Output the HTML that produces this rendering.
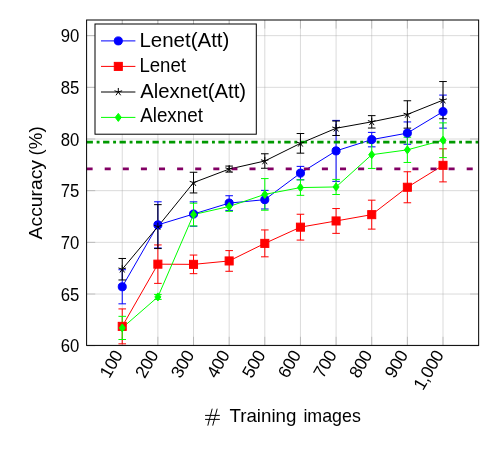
<!DOCTYPE html>
<html><head><meta charset="utf-8"><title>chart</title><style>html,body{margin:0;padding:0;background:#fff}</style></head><body>
<svg width="499" height="453" viewBox="0 0 499 453" style="display:block;will-change:transform;font-family:'Liberation Sans',sans-serif">
<rect width="499" height="453" fill="#fff"/>
<path d="M122.24 20.0V345.4M157.88 20.0V345.4M193.52 20.0V345.4M229.16 20.0V345.4M264.80 20.0V345.4M300.45 20.0V345.4M336.09 20.0V345.4M371.73 20.0V345.4M407.37 20.0V345.4M443.01 20.0V345.4M86.6 345.70H478.65M86.6 294.02H478.65M86.6 242.35H478.65M86.6 190.67H478.65M86.6 139.00H478.65M86.6 87.32H478.65M86.6 35.65H478.65" stroke="#a4a4a4" stroke-width="0.4" fill="none"/>
<path d="M122.24 345.4v-8.6M122.24 20.0v8.6M157.88 345.4v-8.6M157.88 20.0v8.6M193.52 345.4v-8.6M193.52 20.0v8.6M229.16 345.4v-8.6M229.16 20.0v8.6M264.80 345.4v-8.6M264.80 20.0v8.6M300.45 345.4v-8.6M300.45 20.0v8.6M336.09 345.4v-8.6M336.09 20.0v8.6M371.73 345.4v-8.6M371.73 20.0v8.6M407.37 345.4v-8.6M407.37 20.0v8.6M443.01 345.4v-8.6M443.01 20.0v8.6M86.6 345.70h8.6M478.65 345.70h-8.6M86.6 294.02h8.6M478.65 294.02h-8.6M86.6 242.35h8.6M478.65 242.35h-8.6M86.6 190.67h8.6M478.65 190.67h-8.6M86.6 139.00h8.6M478.65 139.00h-8.6M86.6 87.32h8.6M478.65 87.32h-8.6M86.6 35.65h8.6M478.65 35.65h-8.6" stroke="#808080" stroke-width="0.4" fill="none"/>
<clipPath id="c"><rect x="86.6" y="20.0" width="392.04999999999995" height="325.4"/></clipPath>
<g clip-path="url(#c)">
<polyline points="122.24,286.79 157.88,224.88 193.52,214.03 229.16,203.08 264.80,199.67 300.45,173.11 336.09,150.89 371.73,139.62 407.37,133.11 443.01,111.61" fill="none" stroke="#0000ff" stroke-width="1.0"/>
<path d="M122.24 269.74V303.84M118.44 269.74h7.6M118.44 303.84h7.6M157.88 201.79V247.98M154.08 201.79h7.6M154.08 247.98h7.6M193.52 201.84V226.23M189.72 201.84h7.6M189.72 226.23h7.6M229.16 195.74V210.41M225.36 195.74h7.6M225.36 210.41h7.6M264.80 190.36V208.97M261.00 190.36h7.6M261.00 208.97h7.6M300.45 166.39V179.82M296.65 166.39h7.6M296.65 179.82h7.6M336.09 120.40V181.37M332.29 120.40h7.6M332.29 181.37h7.6M371.73 132.39V146.85M367.93 132.39h7.6M367.93 146.85h7.6M407.37 121.95V144.27M403.57 121.95h7.6M403.57 144.27h7.6M443.01 95.08V128.15M439.21 95.08h7.6M439.21 128.15h7.6" stroke="#0000ff" stroke-width="1.0" fill="none"/>
<polyline points="122.24,326.37 157.88,264.16 193.52,264.36 229.16,260.95 264.80,243.38 300.45,227.16 336.09,220.96 371.73,214.65 407.37,187.26 443.01,165.35" fill="none" stroke="#ff0000" stroke-width="1.0"/>
<path d="M122.24 308.91V343.84M118.44 308.91h7.6M118.44 343.84h7.6M157.88 244.93V283.38M154.08 244.93h7.6M154.08 283.38h7.6M193.52 255.06V273.67M189.72 255.06h7.6M189.72 273.67h7.6M229.16 250.62V271.29M225.36 250.62h7.6M225.36 271.29h7.6M264.80 229.95V256.82M261.00 229.95h7.6M261.00 256.82h7.6M300.45 214.24V240.08M296.65 214.24h7.6M296.65 240.08h7.6M336.09 208.55V233.36M332.29 208.55h7.6M332.29 233.36h7.6M371.73 200.18V229.12M367.93 200.18h7.6M367.93 229.12h7.6M407.37 171.76V202.77M403.57 171.76h7.6M403.57 202.77h7.6M443.01 148.82V181.89M439.21 148.82h7.6M439.21 181.89h7.6" stroke="#ff0000" stroke-width="1.0" fill="none"/>
<polyline points="122.24,269.22 157.88,226.59 193.52,182.61 229.16,169.07 264.80,161.01 300.45,143.34 336.09,128.25 371.73,121.84 407.37,114.45 443.01,100.14" fill="none" stroke="#000000" stroke-width="1.0"/>
<path d="M122.24 258.47V279.97M118.44 258.47h7.6M118.44 279.97h7.6M157.88 204.63V248.55M154.08 204.63h7.6M154.08 248.55h7.6M193.52 172.28V192.95M189.72 172.28h7.6M189.72 192.95h7.6M229.16 166.08V172.07M225.36 166.08h7.6M225.36 172.07h7.6M264.80 153.78V168.25M261.00 153.78h7.6M261.00 168.25h7.6M300.45 133.52V153.16M296.65 133.52h7.6M296.65 153.16h7.6M336.09 121.02V135.49M332.29 121.02h7.6M332.29 135.49h7.6M371.73 115.64V128.04M367.93 115.64h7.6M367.93 128.04h7.6M407.37 100.76V128.15M403.57 100.76h7.6M403.57 128.15h7.6M443.01 81.54V118.74M439.21 81.54h7.6M439.21 118.74h7.6" stroke="#000000" stroke-width="1.0" fill="none"/>
<polyline points="122.24,327.92 157.88,296.92 193.52,214.55 229.16,206.49 264.80,194.40 300.45,187.57 336.09,186.95 371.73,154.71 407.37,149.85 443.01,140.24" fill="none" stroke="#00ff00" stroke-width="1.0"/>
<path d="M122.24 316.35V339.50M118.44 316.35h7.6M118.44 339.50h7.6M157.88 294.44V299.40M154.08 294.44h7.6M154.08 299.40h7.6M193.52 203.18V225.92M189.72 203.18h7.6M189.72 225.92h7.6M229.16 201.63V211.34M225.36 201.63h7.6M225.36 211.34h7.6M264.80 178.58V210.21M261.00 178.58h7.6M261.00 210.21h7.6M300.45 179.82V195.33M296.65 179.82h7.6M296.65 195.33h7.6M336.09 179.41V194.50M332.29 179.41h7.6M332.29 194.50h7.6M371.73 140.96V168.45M367.93 140.96h7.6M367.93 168.45h7.6M407.37 137.24V162.46M403.57 137.24h7.6M403.57 162.46h7.6M443.01 122.88V157.60M439.21 122.88h7.6M439.21 157.60h7.6" stroke="#00ff00" stroke-width="1.0" fill="none"/>
</g>
<path d="M86.6 142.10H478.65" stroke="#009900" stroke-width="2.8" stroke-dasharray="6.3 3.75 2.9 3.525" fill="none"/>
<path d="M86.6 168.97H478.65" stroke="#820064" stroke-width="2.8" stroke-dasharray="6.03 12.07" fill="none"/>
<circle cx="122.24" cy="286.79" r="4.02" fill="#0000ff" stroke="#0000ff" stroke-width="1.0"/>
<circle cx="157.88" cy="224.88" r="4.02" fill="#0000ff" stroke="#0000ff" stroke-width="1.0"/>
<circle cx="193.52" cy="214.03" r="4.02" fill="#0000ff" stroke="#0000ff" stroke-width="1.0"/>
<circle cx="229.16" cy="203.08" r="4.02" fill="#0000ff" stroke="#0000ff" stroke-width="1.0"/>
<circle cx="264.80" cy="199.67" r="4.02" fill="#0000ff" stroke="#0000ff" stroke-width="1.0"/>
<circle cx="300.45" cy="173.11" r="4.02" fill="#0000ff" stroke="#0000ff" stroke-width="1.0"/>
<circle cx="336.09" cy="150.89" r="4.02" fill="#0000ff" stroke="#0000ff" stroke-width="1.0"/>
<circle cx="371.73" cy="139.62" r="4.02" fill="#0000ff" stroke="#0000ff" stroke-width="1.0"/>
<circle cx="407.37" cy="133.11" r="4.02" fill="#0000ff" stroke="#0000ff" stroke-width="1.0"/>
<circle cx="443.01" cy="111.61" r="4.02" fill="#0000ff" stroke="#0000ff" stroke-width="1.0"/>
<rect x="118.22" y="322.35" width="8.04" height="8.04" fill="#ff0000" stroke="#ff0000" stroke-width="1.0"/>
<rect x="153.86" y="260.14" width="8.04" height="8.04" fill="#ff0000" stroke="#ff0000" stroke-width="1.0"/>
<rect x="189.50" y="260.34" width="8.04" height="8.04" fill="#ff0000" stroke="#ff0000" stroke-width="1.0"/>
<rect x="225.14" y="256.93" width="8.04" height="8.04" fill="#ff0000" stroke="#ff0000" stroke-width="1.0"/>
<rect x="260.78" y="239.36" width="8.04" height="8.04" fill="#ff0000" stroke="#ff0000" stroke-width="1.0"/>
<rect x="296.43" y="223.14" width="8.04" height="8.04" fill="#ff0000" stroke="#ff0000" stroke-width="1.0"/>
<rect x="332.07" y="216.94" width="8.04" height="8.04" fill="#ff0000" stroke="#ff0000" stroke-width="1.0"/>
<rect x="367.71" y="210.63" width="8.04" height="8.04" fill="#ff0000" stroke="#ff0000" stroke-width="1.0"/>
<rect x="403.35" y="183.24" width="8.04" height="8.04" fill="#ff0000" stroke="#ff0000" stroke-width="1.0"/>
<rect x="438.99" y="161.33" width="8.04" height="8.04" fill="#ff0000" stroke="#ff0000" stroke-width="1.0"/>
<path d="M122.24 269.22L122.24 265.20M122.24 269.22L118.42 267.98M122.24 269.22L119.88 272.47M122.24 269.22L124.60 272.47M122.24 269.22L126.06 267.98" stroke="#000000" stroke-width="1.0" fill="none"/>
<path d="M157.88 226.59L157.88 222.57M157.88 226.59L154.06 225.35M157.88 226.59L155.52 229.84M157.88 226.59L160.24 229.84M157.88 226.59L161.71 225.35" stroke="#000000" stroke-width="1.0" fill="none"/>
<path d="M193.52 182.61L193.52 178.59M193.52 182.61L189.70 181.37M193.52 182.61L191.16 185.87M193.52 182.61L195.89 185.87M193.52 182.61L197.35 181.37" stroke="#000000" stroke-width="1.0" fill="none"/>
<path d="M229.16 169.07L229.16 165.05M229.16 169.07L225.34 167.83M229.16 169.07L226.80 172.33M229.16 169.07L231.53 172.33M229.16 169.07L232.99 167.83" stroke="#000000" stroke-width="1.0" fill="none"/>
<path d="M264.80 161.01L264.80 156.99M264.80 161.01L260.98 159.77M264.80 161.01L262.44 164.27M264.80 161.01L267.17 164.27M264.80 161.01L268.63 159.77" stroke="#000000" stroke-width="1.0" fill="none"/>
<path d="M300.45 143.34L300.45 139.32M300.45 143.34L296.62 142.10M300.45 143.34L298.08 146.59M300.45 143.34L302.81 146.59M300.45 143.34L304.27 142.10" stroke="#000000" stroke-width="1.0" fill="none"/>
<path d="M336.09 128.25L336.09 124.23M336.09 128.25L332.26 127.01M336.09 128.25L333.72 131.50M336.09 128.25L338.45 131.50M336.09 128.25L339.91 127.01" stroke="#000000" stroke-width="1.0" fill="none"/>
<path d="M371.73 121.84L371.73 117.82M371.73 121.84L367.90 120.60M371.73 121.84L369.36 125.10M371.73 121.84L374.09 125.10M371.73 121.84L375.55 120.60" stroke="#000000" stroke-width="1.0" fill="none"/>
<path d="M407.37 114.45L407.37 110.43M407.37 114.45L403.54 113.21M407.37 114.45L405.01 117.71M407.37 114.45L409.73 117.71M407.37 114.45L411.19 113.21" stroke="#000000" stroke-width="1.0" fill="none"/>
<path d="M443.01 100.14L443.01 96.12M443.01 100.14L439.19 98.90M443.01 100.14L440.65 103.39M443.01 100.14L445.37 103.39M443.01 100.14L446.83 98.90" stroke="#000000" stroke-width="1.0" fill="none"/>
<path d="M122.24 323.90L125.26 327.92L122.24 331.94L119.23 327.92Z" fill="#00ff00" stroke="#00ff00" stroke-width="1.0"/>
<path d="M157.88 292.90L160.90 296.92L157.88 300.94L154.87 296.92Z" fill="#00ff00" stroke="#00ff00" stroke-width="1.0"/>
<path d="M193.52 210.53L196.54 214.55L193.52 218.57L190.51 214.55Z" fill="#00ff00" stroke="#00ff00" stroke-width="1.0"/>
<path d="M229.16 202.47L232.18 206.49L229.16 210.51L226.15 206.49Z" fill="#00ff00" stroke="#00ff00" stroke-width="1.0"/>
<path d="M264.80 190.38L267.82 194.40L264.80 198.42L261.79 194.40Z" fill="#00ff00" stroke="#00ff00" stroke-width="1.0"/>
<path d="M300.45 183.55L303.46 187.57L300.45 191.59L297.43 187.57Z" fill="#00ff00" stroke="#00ff00" stroke-width="1.0"/>
<path d="M336.09 182.93L339.10 186.95L336.09 190.97L333.07 186.95Z" fill="#00ff00" stroke="#00ff00" stroke-width="1.0"/>
<path d="M371.73 150.69L374.74 154.71L371.73 158.73L368.71 154.71Z" fill="#00ff00" stroke="#00ff00" stroke-width="1.0"/>
<path d="M407.37 145.83L410.38 149.85L407.37 153.87L404.35 149.85Z" fill="#00ff00" stroke="#00ff00" stroke-width="1.0"/>
<path d="M443.01 136.22L446.02 140.24L443.01 144.26L439.99 140.24Z" fill="#00ff00" stroke="#00ff00" stroke-width="1.0"/>
<rect x="86.6" y="20.0" width="392.05" height="325.40" fill="none" stroke="#000" stroke-width="1.0"/>
<rect x="95.0" y="24.0" width="161.30" height="110.20" fill="#fff" stroke="#000" stroke-width="1.0"/>
<path d="M101 40.9H135.4" stroke="#0000ff" stroke-width="1.0"/>
<circle cx="118.30" cy="40.90" r="4.02" fill="#0000ff" stroke="#0000ff" stroke-width="1.0"/>
 <text x="139.4" y="47.0" font-size="20" textLength="90.0" lengthAdjust="spacingAndGlyphs">Lenet(Att)</text>
<path d="M101 66.4H135.4" stroke="#ff0000" stroke-width="1.0"/>
<rect x="114.28" y="62.38" width="8.04" height="8.04" fill="#ff0000" stroke="#ff0000" stroke-width="1.0"/>
 <text x="139.4" y="71.8" font-size="20" textLength="46.6" lengthAdjust="spacingAndGlyphs">Lenet</text>
<path d="M101 92.0H135.4" stroke="#000000" stroke-width="1.0"/>
<path d="M118.30 92.00L118.30 87.98M118.30 92.00L114.48 90.76M118.30 92.00L115.94 95.25M118.30 92.00L120.66 95.25M118.30 92.00L122.12 90.76" stroke="#000000" stroke-width="1.0" fill="none"/>
 <text x="140.2" y="97.6" font-size="20" textLength="105.9" lengthAdjust="spacingAndGlyphs">Alexnet(Att)</text>
<path d="M101 117.4H135.4" stroke="#00ff00" stroke-width="1.0"/>
<path d="M118.30 113.38L121.31 117.40L118.30 121.42L115.28 117.40Z" fill="#00ff00" stroke="#00ff00" stroke-width="1.0"/>
 <text x="140.2" y="122.4" font-size="20" textLength="62.7" lengthAdjust="spacingAndGlyphs">Alexnet</text>
<text x="79.4" y="352.30" font-size="18.5" text-anchor="end" textLength="18.6" lengthAdjust="spacingAndGlyphs">60</text>
<text x="79.4" y="300.62" font-size="18.5" text-anchor="end" textLength="18.6" lengthAdjust="spacingAndGlyphs">65</text>
<text x="79.4" y="248.95" font-size="18.5" text-anchor="end" textLength="18.6" lengthAdjust="spacingAndGlyphs">70</text>
<text x="79.4" y="197.27" font-size="18.5" text-anchor="end" textLength="18.6" lengthAdjust="spacingAndGlyphs">75</text>
<text x="79.4" y="145.60" font-size="18.5" text-anchor="end" textLength="18.6" lengthAdjust="spacingAndGlyphs">80</text>
<text x="79.4" y="93.92" font-size="18.5" text-anchor="end" textLength="18.6" lengthAdjust="spacingAndGlyphs">85</text>
<text x="79.4" y="42.25" font-size="18.5" text-anchor="end" textLength="18.6" lengthAdjust="spacingAndGlyphs">90</text>
<text transform="translate(122.24,345.4) rotate(-60)" x="-7.6" y="5.6" font-size="17.5" letter-spacing="-0.35" text-anchor="end">100</text>
<text transform="translate(157.88,345.4) rotate(-60)" x="-7.6" y="5.6" font-size="17.5" letter-spacing="-0.35" text-anchor="end">200</text>
<text transform="translate(193.52,345.4) rotate(-60)" x="-7.6" y="5.6" font-size="17.5" letter-spacing="-0.35" text-anchor="end">300</text>
<text transform="translate(229.16,345.4) rotate(-60)" x="-7.6" y="5.6" font-size="17.5" letter-spacing="-0.35" text-anchor="end">400</text>
<text transform="translate(264.80,345.4) rotate(-60)" x="-7.6" y="5.6" font-size="17.5" letter-spacing="-0.35" text-anchor="end">500</text>
<text transform="translate(300.45,345.4) rotate(-60)" x="-7.6" y="5.6" font-size="17.5" letter-spacing="-0.35" text-anchor="end">600</text>
<text transform="translate(336.09,345.4) rotate(-60)" x="-7.6" y="5.6" font-size="17.5" letter-spacing="-0.35" text-anchor="end">700</text>
<text transform="translate(371.73,345.4) rotate(-60)" x="-7.6" y="5.6" font-size="17.5" letter-spacing="-0.35" text-anchor="end">800</text>
<text transform="translate(407.37,345.4) rotate(-60)" x="-7.6" y="5.6" font-size="17.5" letter-spacing="-0.35" text-anchor="end">900</text>
<text transform="translate(443.01,345.4) rotate(-60)" x="-7.6" y="5.6" font-size="17.5" letter-spacing="-0.35" text-anchor="end">1,000</text>
<path d="M205.1 415.4H219.8M205.1 419.4H219.8M212.2 408.7L207.8 425.6M217.2 408.7L212.7 425.6" stroke="#000" stroke-width="1.0" fill="none"/>
<text x="229.4" y="422.0" font-size="19" textLength="67" lengthAdjust="spacingAndGlyphs">Training</text>
<text x="303.4" y="422.0" font-size="19" textLength="57.4" lengthAdjust="spacingAndGlyphs">images</text>
<text transform="translate(42.1,239.4) rotate(-90)" font-size="19" textLength="79.4" lengthAdjust="spacingAndGlyphs">Accuracy</text>
<text transform="translate(42.1,155.4) rotate(-90)" font-size="19" textLength="29" lengthAdjust="spacingAndGlyphs">(%)</text>
</svg>
</body></html>
